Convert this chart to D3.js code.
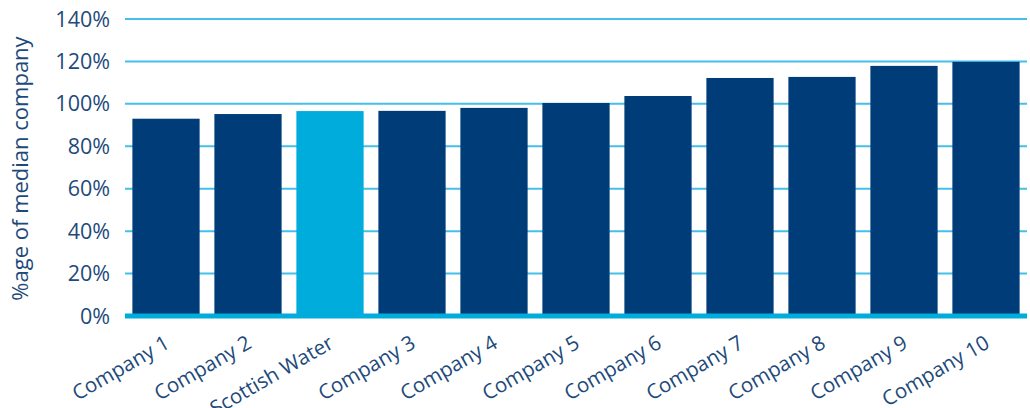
<!DOCTYPE html>
<html>
<head>
  <meta charset="utf-8">
  <script src="https://d3js.org/d3.v7.min.js"></script>
  <style>
    body { margin: 0; background: #fff; }
    text { font-family: "Open Sans", sans-serif; fill: #1d4a7b; }
  </style>
</head>
<body>
<script>
  // chart data
  var companies = ["Company 1", "Company 2", "Scottish Water", "Company 3", "Company 4",
                   "Company 5", "Company 6", "Company 7", "Company 8", "Company 9", "Company 10"];
  var values = [93, 95.2, 96.6, 96.7, 98.1, 100.4, 103.7, 112.2, 112.7, 117.9, 119.8];
  var yTicks = [0, 20, 40, 60, 80, 100, 120, 140];
  var highlight = "Scottish Water";

  var width = 1030, height = 408;
  var margin = {top: 19, right: 3, bottom: 92, left: 125};

  var svg = d3.select("body").append("svg")
      .attr("width", width)
      .attr("height", height);

  var x = d3.scaleBand()
      .domain(companies)
      .range([margin.left, width - margin.right])
      .paddingInner(0.18)
      .paddingOuter(0.09);

  var y = d3.scaleLinear()
      .domain([0, 140])
      .range([height - margin.bottom, margin.top]);

  // gridlines
  svg.append("g")
    .selectAll("line")
    .data(yTicks.filter(function(d) { return d > 0; }))
    .enter().append("line")
      .attr("x1", margin.left)
      .attr("x2", width - margin.right)
      .attr("y1", function(d) { return y(d); })
      .attr("y2", function(d) { return y(d); })
      .attr("stroke", "#45bfe9")
      .attr("stroke-width", 2);

  // y tick labels
  svg.append("g")
    .selectAll("text")
    .data(yTicks)
    .enter().append("text")
      .attr("x", 110)
      .attr("y", function(d) { return y(d); })
      .attr("dy", "0.35em")
      .attr("text-anchor", "end")
      .style("font-size", "21.5px")
      .text(function(d) { return d + "%"; });

  // bars
  svg.append("g")
    .selectAll("rect")
    .data(companies)
    .enter().append("rect")
      .attr("x", function(d) { return x(d); })
      .attr("width", x.bandwidth())
      .attr("y", function(d, i) { return y(values[i]); })
      .attr("height", function(d, i) { return y(0) - y(values[i]); })
      .attr("fill", function(d) { return d === highlight ? "#00acdc" : "#003d78"; });

  // baseline
  svg.append("line")
    .attr("x1", margin.left)
    .attr("x2", width - margin.right)
    .attr("y1", y(0))
    .attr("y2", y(0))
    .attr("stroke", "#00acdc")
    .attr("stroke-width", 5);

  // x labels
  svg.append("g")
    .selectAll("text")
    .data(companies)
    .enter().append("text")
      .attr("text-anchor", "end")
      .attr("transform", function(d) {
        return "translate(" + (x(d) + x.bandwidth() / 2 + 5) + "," + (y(0) + 31) + ") rotate(-30)";
      })
      .style("font-size", "20.5px")
      .text(function(d) { return d; });

  // y title
  svg.append("text")
    .attr("transform", "translate(28," + ((margin.top + y(0)) / 2 + 1) + ") rotate(-90)")
    .attr("text-anchor", "middle")
    .style("font-size", "22px")
    .text("%age of median company");
</script>
</body>
</html>
